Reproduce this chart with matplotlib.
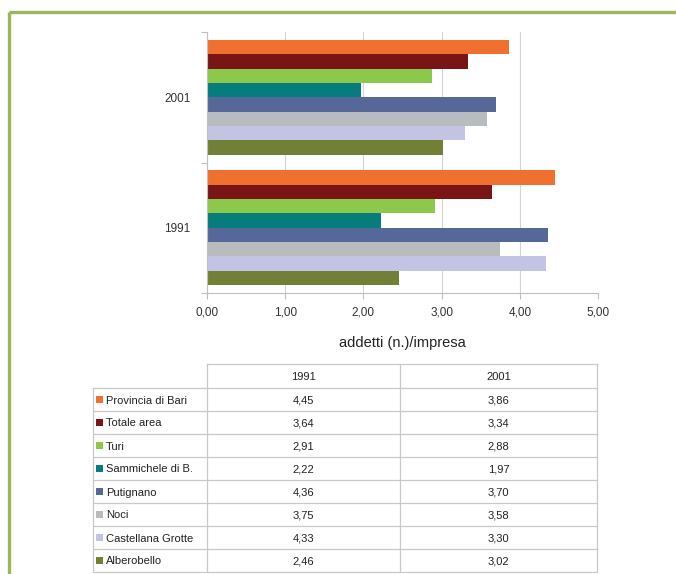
import matplotlib
matplotlib.use("Agg")
import matplotlib.pyplot as plt
from matplotlib import font_manager
from matplotlib.patches import Rectangle

categories = ["1991", "2001"]
series_names = ["Provincia di Bari", "Totale area", "Turi", "Sammichele di B.",
                "Putignano", "Noci", "Castellana Grotte", "Alberobello"]
values_1991 = [4.45, 3.64, 2.91, 2.22, 4.36, 3.75, 4.33, 2.46]
values_2001 = [3.86, 3.34, 2.88, 1.97, 3.70, 3.58, 3.30, 3.02]
colors = ["#f07030", "#7a1515", "#8cc84c", "#067c7c", "#56679a", "#b9bcbe", "#c3c3e3", "#717f37"]
xticks = [0, 1, 2, 3, 4, 5]
xticklabels = ["0,00", "1,00", "2,00", "3,00", "4,00", "5,00"]
xlabel = "addetti (n.)/impresa"

names = {f.name for f in font_manager.fontManager.ttflist}
narrow = "Liberation Sans Narrow" if "Liberation Sans Narrow" in names else "Liberation Sans"

W, H = 676, 574
fig = plt.figure(figsize=(W / 100, H / 100), dpi=100)

# background overlay axes in pixel coordinates
bg = fig.add_axes([0, 0, 1, 1])
bg.set_xlim(0, W)
bg.set_ylim(H, 0)
bg.axis("off")
frame_col = "#9db65c"
bg.plot([9, W], [12, 12], color=frame_col, lw=2.4, solid_capstyle="butt")
bg.plot([9, 9], [12, H], color=frame_col, lw=2.4, solid_capstyle="butt")

# chart axes
x0, x1 = 207, 598
ytop, ybot = 32, 293
ax = fig.add_axes([x0 / W, 1 - ybot / H, (x1 - x0) / W, (ybot - ytop) / H])
ax.set_xlim(0, 5)
ax.set_ylim(-0.5, 1.5)
h = 0.11
nser = len(series_names)
for i, (name, c) in enumerate(zip(series_names, colors)):
    off = (nser / 2 - 0.5 - i) * h
    ax.barh([0 + off, 1 + off], [values_1991[i], values_2001[i]], height=h,
            color=c, edgecolor="none", zorder=2)
ax.set_xticks(xticks)
ax.set_xticklabels(xticklabels, fontfamily=narrow, fontsize=8.5, color="#333333")
ax.set_yticks([0, 1])
ax.set_yticklabels(categories, fontfamily=narrow, fontsize=8.5, color="#333333")
ax.set_yticks([-0.5, 0.5, 1.5], minor=True)
ax.tick_params(axis="y", which="major", length=0, pad=12)
ax.tick_params(axis="y", which="minor", length=4, color="#bfbfbf", width=0.8)
ax.tick_params(axis="x", length=4, color="#bfbfbf", width=0.8, pad=6)
ax.grid(axis="x", color="#d4d4d4", lw=0.8, zorder=0)
for s in ["top", "right"]:
    ax.spines[s].set_visible(False)
for s in ["left", "bottom"]:
    ax.spines[s].set_color("#bfbfbf")
    ax.spines[s].set_linewidth(0.8)
ax.set_xlabel(xlabel, fontfamily="Liberation Sans", fontsize=10.5, color="#222222", labelpad=12)

# data table
lc = "#c9c9c9"
col_x = [93, 207, 400, 597]
row_top = 364
hdr_h = 24
row_h = 23
rows_y = [row_top, row_top + hdr_h] + [row_top + hdr_h + row_h * (k + 1) for k in range(nser)]
tbottom = rows_y[-1]
# horizontal lines
bg.plot([col_x[1], col_x[3]], [rows_y[0], rows_y[0]], color=lc, lw=0.9)
for y in rows_y[1:]:
    bg.plot([col_x[0], col_x[3]], [y, y], color=lc, lw=0.9)
# vertical lines
bg.plot([col_x[0], col_x[0]], [rows_y[1], tbottom], color=lc, lw=0.9)
for x in col_x[1:]:
    bg.plot([x, x], [rows_y[0], tbottom], color=lc, lw=0.9)
tf = dict(fontfamily=narrow, fontsize=8, color="#222222", va="center_baseline")
for j, cat in enumerate(categories):
    cx = (col_x[j + 1] + col_x[j + 2]) / 2
    bg.text(cx, (rows_y[0] + rows_y[1]) / 2, cat, ha="center", **tf)
for i in range(nser):
    yc = (rows_y[i + 1] + rows_y[i + 2]) / 2
    bg.add_patch(Rectangle((96, yc - 3.5), 7, 7, color=colors[i], lw=0))
    bg.text(106, yc, series_names[i], ha="left", **tf)
    for j, vals in enumerate([values_1991, values_2001]):
        cx = (col_x[j + 1] + col_x[j + 2]) / 2
        bg.text(cx, yc, f"{vals[i]:.2f}".replace(".", ","), ha="center", **tf)

fig.savefig("out.png", dpi=100)
